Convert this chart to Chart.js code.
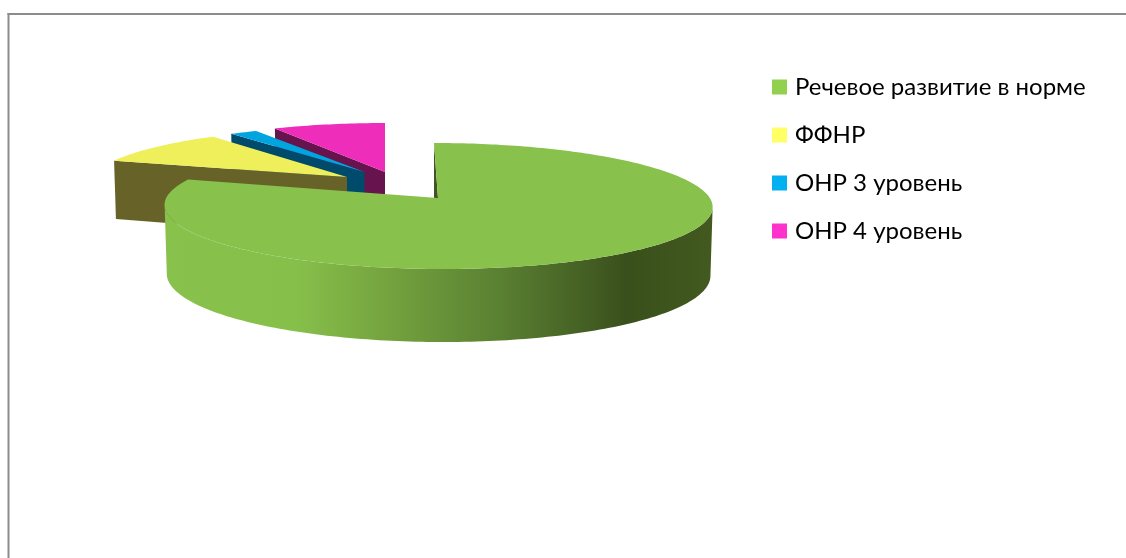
<!DOCTYPE html>
<html>
<head>
<meta charset="utf-8">
<style>html,body{margin:0;padding:0;background:#fff;overflow:hidden}canvas{display:block}</style>
<script src="https://cdn.jsdelivr.net/npm/chart.js@4"></script>
</head>
<body>
<canvas id="c" width="1126" height="558"></canvas>
<script>
const categories = ['Речевое развитие в норме', 'ФФНР', 'ОНР 3 уровень', 'ОНР 4 уровень'];
const shares = [80, 10, 2, 8];
const legendColors = ['#92D050', '#FFFF66', '#00B0F0', '#FF33CC'];
const topColors = ['#89C14D', '#EFEE5B', '#00A5E0', '#EE2DBB'];
const wallColors = ['#3F5620', '#676328', '#004A6B', '#67134D'];

// 3D view of the pie: where each exploded slice's tip lands and how the disc is foreshortened
const sliceViews = [
  {ax: 438, ay: 198, A: 271.8, B: 62, S: 4.5, k: 0.127, depth: 68, tilt: 5},
  {ax: 347, ay: 177, A: 255.5, B: 55, S: -3, k: 0.127, depth: 60, tilt: 5},
  {ax: 364.5, ay: 172, A: 250, B: 52, S: 0, k: 0.127, depth: 60, tilt: 5},
  {ax: 385, ay: 172, A: 254, B: 55.2, S: 0, k: 0.127, depth: 60, tilt: 5}
];
const wallStops = [[0, '#89C14D'], [0.24, '#87BF4B'], [0.41, '#74A23E'], [0.61, '#5A8032'], [0.84, '#3A501C'], [1, '#42591F']];

function project(view, angle, r, lower) {
  const u = Math.cos(angle) * r, v = Math.sin(angle) * r;
  const w = 1 - view.k * v;
  let x = (view.A * u + view.S * v) / w;
  let y = view.B * v / w;
  if (lower) { x *= 0.992; y += view.depth + view.tilt * v; }
  return [view.ax + x, view.ay + y];
}

function tracePoints(ctx, pts) {
  ctx.beginPath();
  pts.forEach((p, i) => i ? ctx.lineTo(p[0], p[1]) : ctx.moveTo(p[0], p[1]));
  ctx.closePath();
}

const pie3d = {
  id: 'pie3d',
  beforeDraw(chart) {
    const ctx = chart.ctx;
    ctx.save();
    ctx.fillStyle = '#fff';
    ctx.fillRect(0, 0, chart.width, chart.height);
    ctx.fillStyle = '#8C8C8C';
    ctx.fillRect(7.5, 13, chart.width, 2);
    ctx.fillRect(7.5, 13, 2, chart.height);
    ctx.restore();
  },
  afterLayout(chart) {
    chart.legend.left = 752;
  },
  beforeDatasetsDraw(chart) {
    const ctx = chart.ctx;
    const arcs = chart.getDatasetMeta(0).data;
    ctx.save();
    [3, 2, 1, 0].forEach(i => {
      const arc = arcs[i], view = sliceViews[i];
      const start = arc.startAngle, end = arc.endAngle;
      const n = Math.max(4, Math.ceil((end - start) / 0.02));
      const rim = [], rimLow = [], frontTop = [], frontLow = [];
      for (let s = 0; s <= n; s++) {
        const a = start + (end - start) * s / n;
        const top = project(view, a, 1, false), low = project(view, a, 1, true);
        rim.push(top);
        rimLow.push(low);
        if (Math.sin(a) >= view.k) { frontTop.push(top); frontLow.push(low); }
      }
      const tip = project(view, 0, 0, false), tipLow = project(view, 0, 0, true);
      ctx.fillStyle = wallColors[i];
      tracePoints(ctx, [rim[0], tip, tipLow, rimLow[0]]);
      ctx.fill();
      if (frontTop.length > 1) {
        const g = ctx.createLinearGradient(166, 0, 713, 0);
        wallStops.forEach(st => g.addColorStop(st[0], st[1]));
        ctx.fillStyle = g;
        tracePoints(ctx, frontTop.concat(frontLow.slice().reverse()));
        ctx.fill();
      }
      ctx.fillStyle = topColors[i];
      tracePoints(ctx, [tip].concat(rim));
      ctx.fill();
    });
    ctx.restore();
    return false;
  }
};

new Chart(document.getElementById('c'), {
  type: 'pie',
  data: {
    labels: categories,
    datasets: [{data: shares, backgroundColor: legendColors, borderWidth: 0}]
  },
  options: {
    responsive: false,
    animation: false,
    devicePixelRatio: 1,
    layout: {padding: {top: 51}},
    plugins: {
      tooltip: {enabled: false},
      legend: {
        position: 'right',
        align: 'start',
        labels: {
          boxWidth: 7,
          boxHeight: 7,
          padding: 24,
          color: '#000',
          font: {family: "Lato, 'Open Sans', sans-serif", size: 24},
          generateLabels(chart) {
            return Chart.overrides.pie.plugins.legend.labels.generateLabels(chart)
              .map(item => ({...item, strokeStyle: item.fillStyle, lineWidth: 8}));
          }
        }
      }
    }
  },
  plugins: [pie3d]
});
</script>
</body>
</html>
